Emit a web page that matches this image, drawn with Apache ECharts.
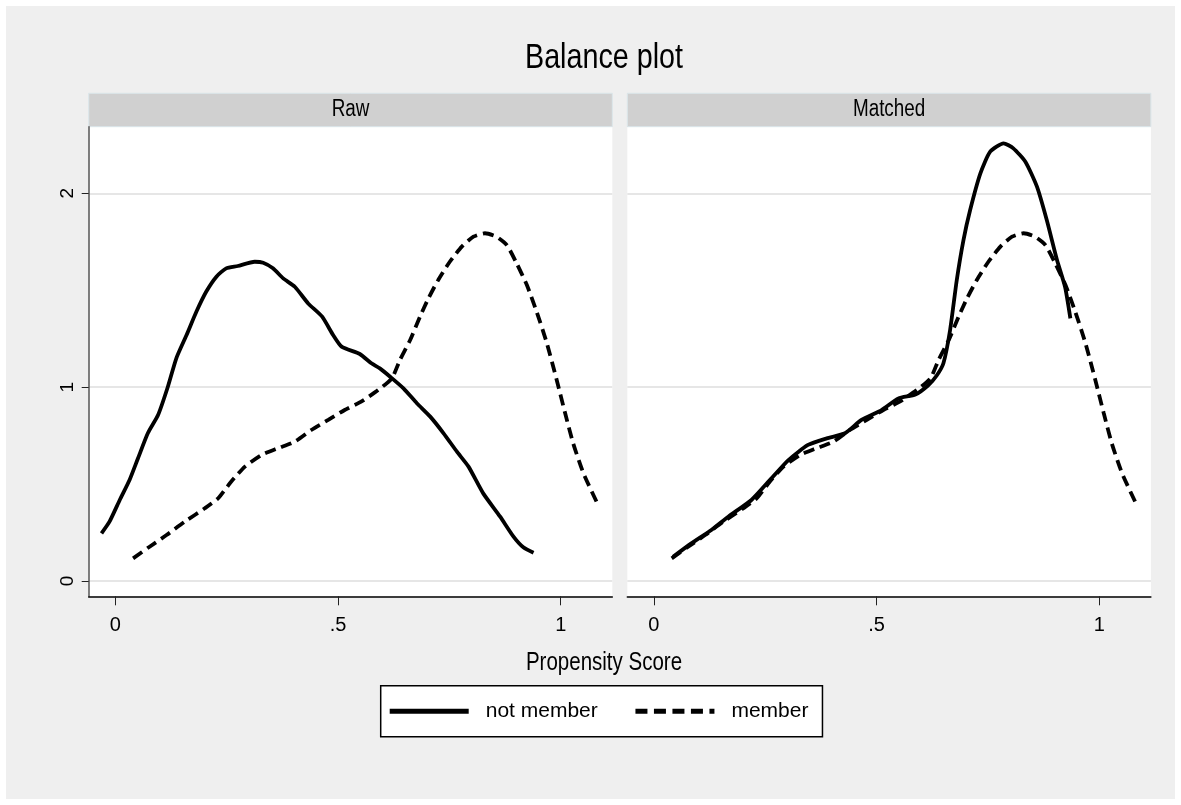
<!DOCTYPE html>
<html>
<head>
<meta charset="utf-8">
<script src="https://cdn.jsdelivr.net/npm/echarts@6/dist/echarts.min.js"></script>
<style>
html,body{margin:0;padding:0;background:#fff;}
#chart{width:1181px;height:805px;}
</style>
</head>
<body>
<div id="chart"></div>
<script>
// ---- data ----
const seriesNames = ['not member', 'member'];
const panelNames = ['Raw', 'Matched'];
const chartTitle = 'Balance plot';
const xAxisTitle = 'Propensity Score';
const xTicks = [0, 0.5, 1];
const xTickLabels = ['0', '.5', '1'];
const yTicks = [0, 1, 2];
const yTickLabels = ['0', '1', '2'];

const rawNotMemberX = [-0.031,-0.013,0.010,0.032,0.051,0.073,0.096,0.118,0.137,0.160,0.182,0.204,0.227,0.249,0.275,0.313,0.332,0.354,0.377,0.403,0.433,0.464,0.489,0.508,0.549,0.575,0.594,0.617,0.647,0.677,0.707,0.737,0.767,0.793,0.826,0.864,0.894,0.916,0.939];
const rawNotMemberY = [0.246,0.306,0.418,0.521,0.633,0.762,0.856,1.002,1.149,1.269,1.389,1.492,1.570,1.613,1.625,1.647,1.642,1.613,1.561,1.518,1.432,1.365,1.269,1.209,1.171,1.123,1.097,1.054,0.994,0.917,0.848,0.762,0.667,0.590,0.452,0.332,0.229,0.174,0.146];

const memberX = [0.040,0.077,0.115,0.156,0.201,0.231,0.260,0.291,0.328,0.365,0.403,0.440,0.478,0.515,0.552,0.590,0.621,0.639,0.662,0.684,0.703,0.725,0.751,0.778,0.804,0.830,0.856,0.879,0.901,0.924,0.946,0.969,0.991,1.010,1.028,1.051,1.084];
const memberY = [0.117,0.177,0.237,0.306,0.375,0.427,0.512,0.590,0.650,0.685,0.719,0.779,0.831,0.882,0.925,0.985,1.046,1.140,1.243,1.363,1.458,1.553,1.647,1.725,1.776,1.794,1.776,1.733,1.639,1.527,1.389,1.226,1.037,0.865,0.710,0.556,0.392];

const matchedNotMemberX = [0.043,0.084,0.129,0.167,0.219,0.264,0.302,0.346,0.388,0.429,0.466,0.511,0.549,0.587,0.616,0.635,0.650,0.665,0.680,0.695,0.710,0.733,0.755,0.785,0.807,0.834,0.860,0.882,0.905,0.923,0.935];
const matchedNotMemberY = [0.125,0.194,0.263,0.332,0.418,0.530,0.624,0.702,0.736,0.762,0.831,0.882,0.942,0.962,1.010,1.060,1.123,1.295,1.553,1.759,1.914,2.103,2.215,2.258,2.232,2.163,2.034,1.862,1.656,1.518,1.355];

// ---- build ----
const FONT = "'Liberation Sans',Arial,sans-serif";
const NARROW = 0.82; // horizontal squeeze to mimic a condensed face
function pairs(xs, ys){ return xs.map((x,i)=>[x, ys[i]]); }
function fmt(ticks, labels){ return v => { for (let i=0;i<ticks.length;i++){ if (Math.abs(v-ticks[i])<1e-9) return labels[i]; } return ''; }; }

const X_MIN = -0.0597, X_MAX = 1.1158, Y_MIN = -0.0789, Y_MAX = 2.3436;
const grids = [
  {left: 88.7, top: 126.7, width: 523.6, height: 469.6},
  {left: 627.3, top: 126.7, width: 523.6, height: 469.6}
];

const chart = echarts.init(document.getElementById('chart'), null, {renderer:'canvas'});

const xAxes = grids.map((g, i) => ({
  type: 'value', gridIndex: i, min: X_MIN, max: X_MAX,
  axisLine: {show: true, onZero: false, lineStyle: {color: '#000', width: 1.5}},
  axisTick: {show: true, length: 9, lineStyle: {color: '#222', width: 1}, customValues: xTicks},
  axisLabel: {show: true, customValues: xTicks, formatter: fmt(xTicks, xTickLabels), fontFamily: FONT, fontSize: 20, color: '#000', margin: 19},
  splitLine: {show: false}
}));
const yAxes = grids.map((g, i) => ({
  type: 'value', gridIndex: i, min: Y_MIN, max: Y_MAX,
  axisLine: {show: i === 0, onZero: false, lineStyle: {color: '#555', width: 1.5}},
  axisTick: {show: i === 0, length: 7, lineStyle: {color: '#222', width: 1}, customValues: yTicks},
  axisLabel: {show: i === 0, customValues: yTicks, formatter: fmt(yTicks, yTickLabels), rotate: 90, fontFamily: FONT, fontSize: 19, color: '#000', margin: 11},
  splitLine: {show: true, lineStyle: {color: '#e6e6e6', width: 2}}
}));

const solid = {color: '#000', width: 3.8, type: 'solid'};
const dashed = {color: '#000', width: 3.8, type: [11, 6]};
function lineSeries(name, data, idx, style){
  return {name, type: 'line', xAxisIndex: idx, yAxisIndex: idx, data, symbol: 'none', smooth: 0.2,
    lineStyle: style, itemStyle: {color: '#000'}, animation: false, z: 3};
}

const series = [
  lineSeries(seriesNames[0], pairs(rawNotMemberX, rawNotMemberY), 0, solid),
  lineSeries(seriesNames[1], pairs(memberX, memberY), 0, dashed),
  lineSeries(seriesNames[0], pairs(matchedNotMemberX, matchedNotMemberY), 1, solid),
  lineSeries(seriesNames[1], pairs(memberX, memberY), 1, dashed)
];

function label(text, x, y, size){
  return {type: 'text', x, y, scaleX: NARROW, scaleY: 1, silent: true,
    style: {text, font: size + 'px ' + FONT, fill: '#000', align: 'center', verticalAlign: 'middle'}};
}
const graphics = [
  {type: 'rect', z: -100, silent: true, shape: {x: 6, y: 6, width: 1169, height: 793}, style: {fill: '#efefef'}},
  label(chartTitle, 604, 58, 35),
  label(xAxisTitle, 604, 663, 25)
];
grids.forEach((g, i) => {
  graphics.push({type: 'rect', silent: true, shape: {x: g.left, y: 93.3, width: g.width, height: 33.4}, style: {fill: '#d0d0d0', stroke: '#dbe6ea', lineWidth: 1}});
  graphics.push(label(panelNames[i], g.left + g.width / 2, 110, 23));
});

const legendIcons = [
  'path://M0,0H79V5H0Z',
  'path://M0,0H12V5H0Z M18.5,0H30.5V5H18.5Z M37,0H49V5H37Z M55.5,0H67.5V5H55.5Z M74,0H79V5H74Z'
];

chart.setOption({
  backgroundColor: '#fff',
  animation: false,
  grid: grids.map(g => Object.assign({show: true, backgroundColor: '#fff', borderWidth: 0, containLabel: false}, g)),
  xAxis: xAxes,
  yAxis: yAxes,
  legend: {
    data: seriesNames.map((n, i) => ({name: n, icon: legendIcons[i]})),
    left: 380.7, top: 685.7, orient: 'horizontal',
    padding: [10, 14, 10, 9], itemGap: 37.7, itemWidth: 79, itemHeight: 5,
    itemStyle: {color: '#000', borderWidth: 0},
    borderColor: '#000', borderWidth: 1.5, backgroundColor: '#fff',
    textStyle: {fontFamily: FONT, fontSize: 21, color: '#000', padding: [0, 0, 0, 12], lineHeight: 31},
    selectedMode: false
  },
  graphic: graphics,
  series
});
</script>
</body>
</html>
